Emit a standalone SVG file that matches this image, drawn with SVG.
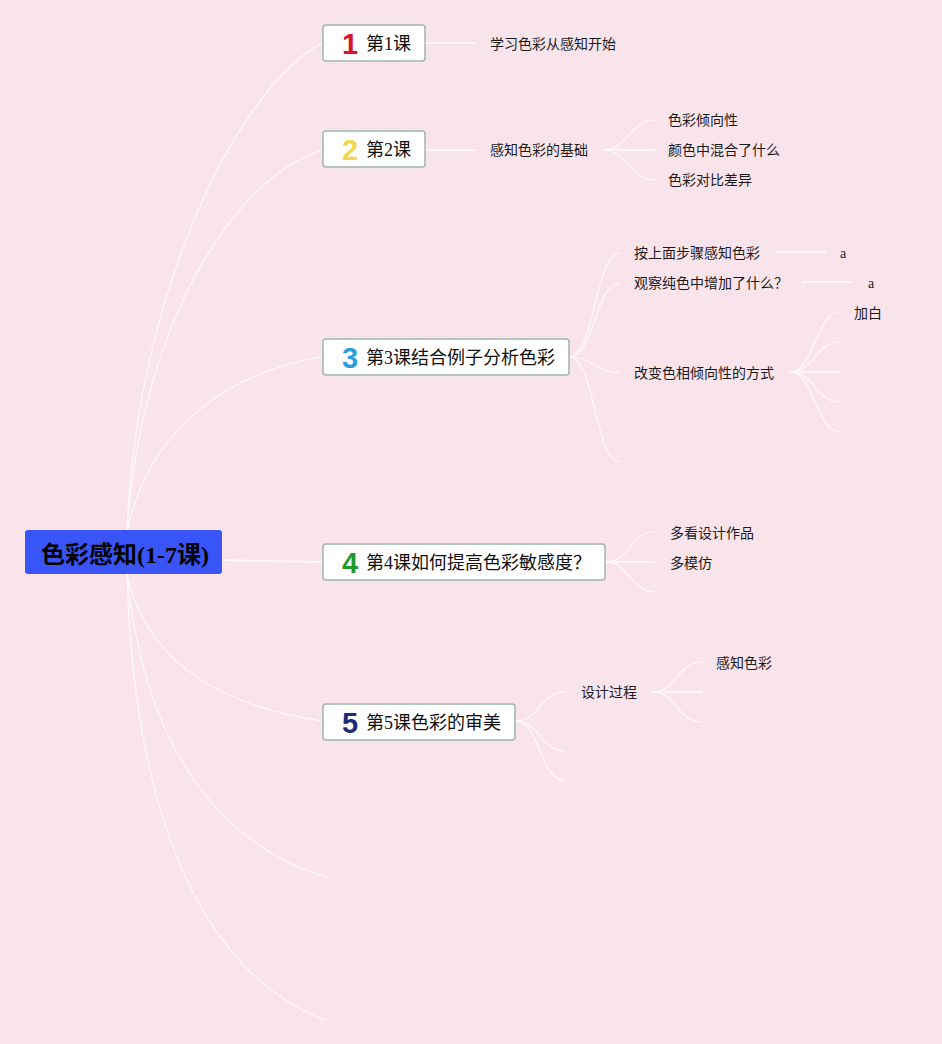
<svg xmlns="http://www.w3.org/2000/svg" width="942" height="1044" viewBox="0 0 942 1044">
<style>
.bg{fill:#f9e4ec}
.c{fill:none;stroke:#ffffff;stroke-width:1.1;stroke-opacity:0.85}
.h{fill:none;stroke:#ffffff;stroke-width:2;stroke-opacity:0.7}
.box{fill:#ffffff;stroke:#9db7ae;stroke-width:1.5}
.nt{font-family:"Liberation Serif","Noto Sans CJK SC",serif;font-size:18px;fill:#111}
.ic{font-family:"Liberation Sans","DejaVu Sans",sans-serif;font-weight:bold;font-size:29px;text-anchor:middle}
.st{font-family:"Liberation Serif","Noto Sans CJK SC",serif;font-size:14px;fill:#1a1a1a}
.root{font-family:"Liberation Serif","Noto Sans CJK SC",serif;font-size:24px;font-weight:bold;fill:#000;text-anchor:middle}
</style>
<rect class="bg" x="0" y="0" width="942" height="1044"/>
<g id="connectors">
<path class="c" d="M127,532 C135,300 235,90 322,43"/>
<path class="c" d="M127,532 C140,330 230,180 322,150"/>
<path class="c" d="M127,532 C150,420 240,370 322,357"/>
<path class="h" d="M222,560 L322,562"/>
<path class="c" d="M127,574 C150,680 250,710 322,721"/>
<path class="c" d="M127,574 C145,760 230,850 330,878"/>
<path class="c" d="M127,574 C135,850 220,980 325,1020"/>
<path class="h" d="M425,43 L475,43"/>
<path class="h" d="M425,150 L475,150"/>
<path class="c" d="M603,150 C628,150 630,120 655,120"/>
<path class="h" d="M603,150 L655,150"/>
<path class="c" d="M603,150 C628,150 630,180 655,180"/>
<path class="c" d="M569,357 C595,357 595,253 620,253"/>
<path class="c" d="M569,357 C595,357 595,283 620,283"/>
<path class="c" d="M569,357 C595,357 595,373 620,373"/>
<path class="c" d="M569,357 C595,357 595,462 620,462"/>
<path class="h" d="M776,252 L826,252"/>
<path class="h" d="M802,282 L852,282"/>
<path class="c" d="M790,372 C815,372 815,312 840,312"/>
<path class="c" d="M790,372 C815,372 815,342 840,342"/>
<path class="h" d="M790,372 L840,372"/>
<path class="c" d="M790,372 C815,372 815,402 840,402"/>
<path class="c" d="M790,372 C815,372 815,432 840,432"/>
<path class="c" d="M605,562 C630,562 630,532 655,532"/>
<path class="h" d="M605,562 L655,562"/>
<path class="c" d="M605,562 C630,562 630,592 655,592"/>
<path class="c" d="M515,721 C540,721 540,692 565,692"/>
<path class="c" d="M515,721 C540,721 540,751 565,751"/>
<path class="c" d="M515,721 C540,721 540,781 565,781"/>
<path class="c" d="M652,692 C677,692 677,662 702,662"/>
<path class="h" d="M652,692 L702,692"/>
<path class="c" d="M652,692 C677,692 677,722 702,722"/>
</g>
<g id="root">
<rect x="25" y="530" width="197" height="44" rx="3" fill="#3a55f7"/>
<text class="root" x="125" y="562.5">色彩感知(1-7课)</text>
</g>
<g id="lesson1">
<rect class="box" x="323" y="25" width="102" height="36" rx="3"/>
<text class="ic" x="350" y="54" fill="#d9142e">1</text>
<text class="nt" x="366" y="50">第1课</text>
</g>
<g id="lesson2">
<rect class="box" x="323" y="131" width="102" height="36" rx="3"/>
<text class="ic" x="350" y="160" fill="#f2d84c">2</text>
<text class="nt" x="366" y="156">第2课</text>
</g>
<g id="lesson3">
<rect class="box" x="323" y="339" width="246" height="36" rx="3"/>
<text class="ic" x="350" y="368" fill="#2a9fdc">3</text>
<text class="nt" x="366" y="364">第3课结合例子分析色彩</text>
</g>
<g id="lesson4">
<rect class="box" x="323" y="544" width="282" height="36" rx="3"/>
<text class="ic" x="350" y="573" fill="#1e9a2e">4</text>
<text class="nt" x="366" y="569">第4课如何提高色彩敏感度？</text>
</g>
<g id="lesson5">
<rect class="box" x="323" y="704" width="192" height="36" rx="3"/>
<text class="ic" x="350" y="733" fill="#1c2a7a">5</text>
<text class="nt" x="366" y="729">第5课色彩的审美</text>
</g>
<g id="l1-c1"><text class="st" x="490" y="49">学习色彩从感知开始</text></g>
<g id="l2-c1"><text class="st" x="490" y="155">感知色彩的基础</text></g>
<g id="l2-c1-a"><text class="st" x="668" y="125">色彩倾向性</text></g>
<g id="l2-c1-b"><text class="st" x="668" y="155">颜色中混合了什么</text></g>
<g id="l2-c1-c"><text class="st" x="668" y="185">色彩对比差异</text></g>
<g id="l3-c1"><text class="st" x="634" y="258">按上面步骤感知色彩</text></g>
<g id="l3-c1-a"><text class="st" x="840" y="258">a</text></g>
<g id="l3-c2"><text class="st" x="634" y="288">观察纯色中增加了什么？</text></g>
<g id="l3-c2-a"><text class="st" x="868" y="288">a</text></g>
<g id="l3-c3"><text class="st" x="634" y="378">改变色相倾向性的方式</text></g>
<g id="l3-c3-a"><text class="st" x="854" y="318">加白</text></g>
<g id="l4-c1"><text class="st" x="670" y="538">多看设计作品</text></g>
<g id="l4-c2"><text class="st" x="670" y="568">多模仿</text></g>
<g id="l5-c1"><text class="st" x="581" y="697">设计过程</text></g>
<g id="l5-c1-a"><text class="st" x="716" y="668">感知色彩</text></g>
</svg>
